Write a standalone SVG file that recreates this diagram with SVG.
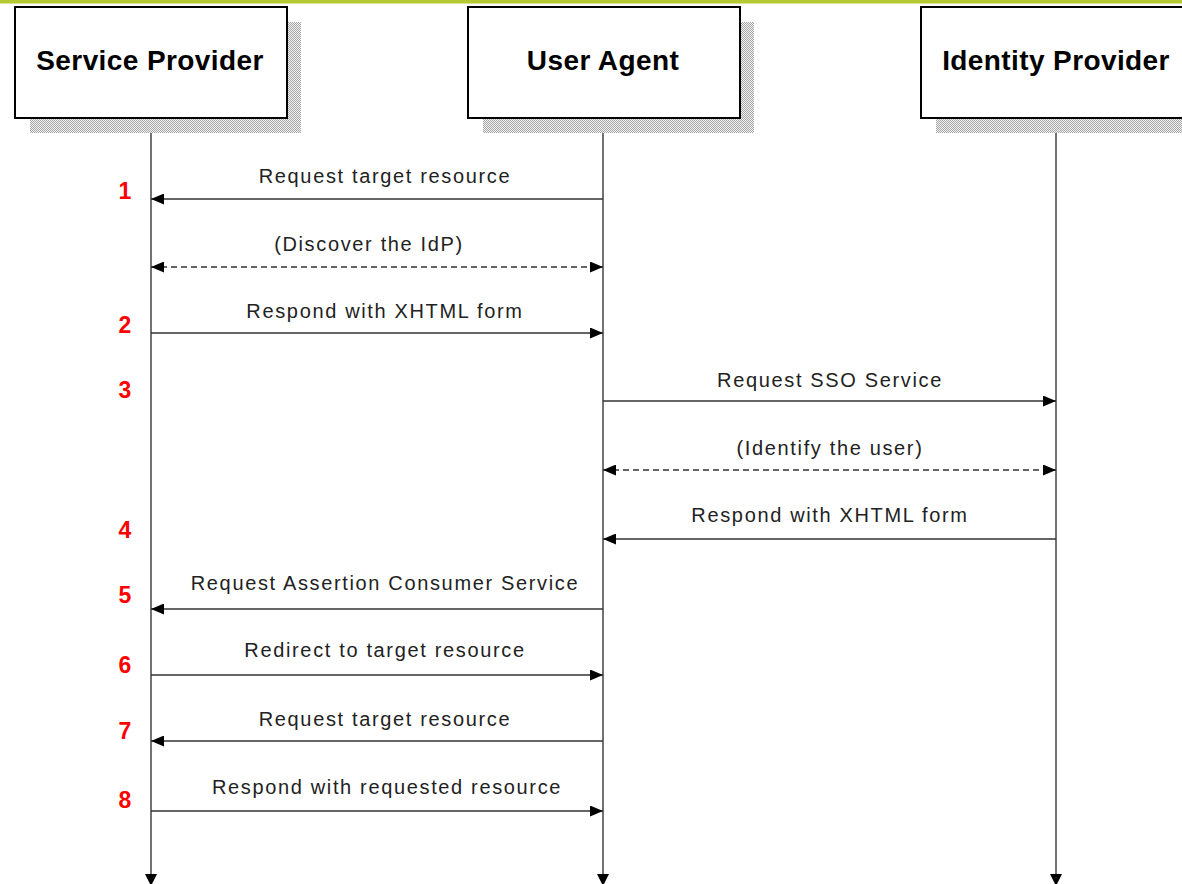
<svg xmlns="http://www.w3.org/2000/svg" width="1182" height="884" viewBox="0 0 1182 884">
<style>
.box{fill:#fff;stroke:#000;stroke-width:2}
.title{font-family:"Liberation Sans",Arial,sans-serif;font-weight:bold;font-size:28px;fill:#000;text-anchor:middle;letter-spacing:0.4px}
.life{stroke:#444;stroke-width:1.5;fill:none}
.msg{stroke:#333;stroke-width:1.4;fill:none}
.dash{stroke-dasharray:6 4}
.lbl{font-family:"Liberation Sans",Arial,sans-serif;font-size:20px;fill:#222;text-anchor:middle;letter-spacing:1.65px}
.num{font-family:"Liberation Sans",Arial,sans-serif;font-weight:bold;font-size:23px;fill:#f00;text-anchor:middle}
</style>
<defs>
<pattern id="hatch" width="2" height="2" patternUnits="userSpaceOnUse">
<rect width="2" height="2" fill="#f0f0f0"/>
<rect width="1" height="1" fill="#a8a8a8"/>
<rect x="1" y="1" width="1" height="1" fill="#a8a8a8"/>
</pattern>
<marker id="ah" markerWidth="13" markerHeight="11" refX="13" refY="5.5" orient="auto-start-reverse" markerUnits="userSpaceOnUse">
<path d="M0,0 L13,5.5 L0,11 z" fill="#000"/>
</marker>
</defs>
<rect width="1182" height="884" fill="#fff"/>
<rect x="0" y="0" width="1182" height="3.5" fill="#b5c934"/>

<g id="lifelines">
<line class="life" x1="151" y1="118" x2="151" y2="876"/>
<polygon points="145,874 157,874 151,886" fill="#000"/>
<line class="life" x1="603" y1="118" x2="603" y2="876"/>
<polygon points="597,874 609,874 603,886" fill="#000"/>
<line class="life" x1="1056" y1="118" x2="1056" y2="876"/>
<polygon points="1050,874 1062,874 1056,886" fill="#000"/>
</g>

<g id="service-provider">
<rect x="30" y="22" width="271" height="111" fill="url(#hatch)"/>
<rect class="box" x="15" y="7" width="272" height="111"/>
<text class="title" x="150" y="70">Service Provider</text>
</g>
<g id="user-agent">
<rect x="483" y="22" width="271" height="111" fill="url(#hatch)"/>
<rect class="box" x="468" y="7" width="272" height="111"/>
<text class="title" x="603" y="70">User Agent</text>
</g>
<g id="identity-provider">
<rect x="936" y="22" width="271" height="111" fill="url(#hatch)"/>
<rect class="box" x="921" y="7" width="272" height="111"/>
<text class="title" x="1056" y="70">Identity Provider</text>
</g>

<g id="connectors">
<line class="msg" x1="603" y1="199" x2="151" y2="199" marker-end="url(#ah)"/>
<line class="msg dash" x1="151" y1="267" x2="603" y2="267" marker-start="url(#ah)" marker-end="url(#ah)"/>
<line class="msg" x1="151" y1="333" x2="603" y2="333" marker-end="url(#ah)"/>
<line class="msg" x1="603" y1="401" x2="1056" y2="401" marker-end="url(#ah)"/>
<line class="msg dash" x1="603" y1="470" x2="1056" y2="470" marker-start="url(#ah)" marker-end="url(#ah)"/>
<line class="msg" x1="1056" y1="539" x2="603" y2="539" marker-end="url(#ah)"/>
<line class="msg" x1="603" y1="609" x2="151" y2="609" marker-end="url(#ah)"/>
<line class="msg" x1="151" y1="675" x2="603" y2="675" marker-end="url(#ah)"/>
<line class="msg" x1="603" y1="741" x2="151" y2="741" marker-end="url(#ah)"/>
<line class="msg" x1="151" y1="811" x2="603" y2="811" marker-end="url(#ah)"/>
</g>

<g id="labels">
<text class="lbl" x="385" y="183">Request target resource</text>
<text class="lbl" x="369" y="251">(Discover the IdP)</text>
<text class="lbl" x="385" y="318">Respond with XHTML form</text>
<text class="lbl" x="830" y="387">Request SSO Service</text>
<text class="lbl" x="830" y="455">(Identify the user)</text>
<text class="lbl" x="830" y="522">Respond with XHTML form</text>
<text class="lbl" x="385" y="590">Request Assertion Consumer Service</text>
<text class="lbl" x="385" y="657">Redirect to target resource</text>
<text class="lbl" x="385" y="726">Request target resource</text>
<text class="lbl" x="387" y="794">Respond with requested resource</text>
</g>

<g id="numbers">
<text class="num" x="125" y="199">1</text>
<text class="num" x="125" y="333">2</text>
<text class="num" x="125" y="398">3</text>
<text class="num" x="125" y="538">4</text>
<text class="num" x="125" y="603">5</text>
<text class="num" x="125" y="673">6</text>
<text class="num" x="125" y="739">7</text>
<text class="num" x="125" y="808">8</text>
</g>
</svg>
